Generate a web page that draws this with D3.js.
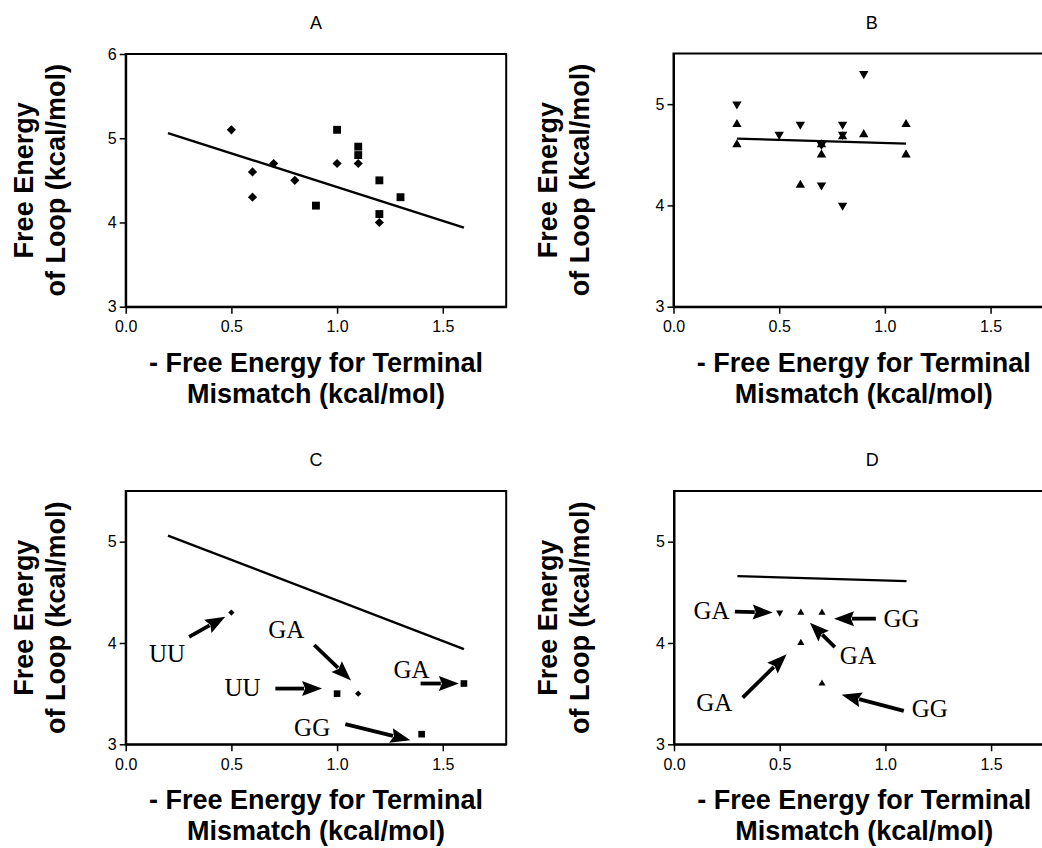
<!DOCTYPE html>
<html>
<head>
<meta charset="utf-8">
<script src="https://cdn.jsdelivr.net/npm/d3@7"></script>
<style>
  body { margin: 0; background: #fff; }
  svg { display: block; font-family: "Liberation Sans", Arial, sans-serif; }
</style>
</head>
<body>
<script>
// ---- data ----
const xTicks = [0.0, 0.5, 1.0, 1.5];
const yTicksA = [3, 4, 5, 6];
const yTicksBCD = [3, 4, 5];

// panel A
const aDiamonds = [[0.5, 5.1], [0.6, 4.6], [0.6, 4.3], [0.7, 4.7], [0.8, 4.5], [1.0, 4.7], [1.1, 4.7], [1.2, 4.0]];
const aSquares = [[1.0, 5.1], [1.1, 4.9], [1.1, 4.8], [0.9, 4.2], [1.2, 4.5], [1.2, 4.1], [1.3, 4.3]];
const fitAC = [[0.2, 5.06], [1.6, 3.94]];

// panel B
const bDown = [[0.3, 5.0], [0.5, 4.7], [0.6, 4.8], [0.7, 4.6], [0.7, 4.2], [0.8, 4.8], [0.8, 4.7], [0.8, 4.0], [0.9, 5.3]];
const bUp = [[0.3, 4.8], [0.3, 4.6], [0.6, 4.2], [0.7, 4.6], [0.7, 4.5], [0.8, 4.68], [0.9, 4.7], [1.1, 4.8], [1.1, 4.5]];
const fitBD = [[0.3, 4.66], [1.1, 4.61]];

// panel C
const cDiamonds = [[0.5, 4.3], [1.1, 3.5]];
const cSquares = [[1.0, 3.5], [1.6, 3.6], [1.4, 3.1]];
const cLabels = ["UU", "GA", "UU", "GA", "GG"];
const cLabelAt = [[0.196, 3.90], [0.76, 4.13], [0.553, 3.56], [1.352, 3.74], [0.882, 3.17]];
const cArrowFrom = [[0.30, 4.06], [0.892, 3.98], [0.708, 3.55], [1.395, 3.60], [1.039, 3.20]];
const cArrowTo = [[0.471, 4.26], [1.066, 3.63], [0.929, 3.55], [1.576, 3.60], [1.347, 3.04]];

// panel D
const dDown = [[0.5, 4.3]];
const dUp = [[0.6, 4.3], [0.7, 4.3], [0.6, 4.0], [0.7, 3.6]];
const dLabels = ["GA", "GG", "GA", "GA", "GG"];
const dLabelAt = [[0.178, 4.32], [1.076, 4.24], [0.87, 3.88], [0.191, 3.41], [1.21, 3.35]];
const dArrowFrom = [[0.288, 4.31], [0.955, 4.24], [0.761, 3.96], [0.325, 3.46], [1.087, 3.33]];
const dArrowTo = [[0.467, 4.30], [0.757, 4.24], [0.643, 4.20], [0.533, 3.89], [0.793, 3.49]];

const width = 1042, height = 848;

const svg = d3.select("body").append("svg")
  .attr("width", width)
  .attr("height", height);

function drawPanel(opt) {
  const x = d3.scaleLinear().domain([0, 1.8]).range([opt.left, opt.left + 380.5]);
  const y = d3.scaleLinear().domain(opt.yDomain).range([opt.bottom, opt.top]);
  const g = svg.append("g");

  // frame (top and right edges)
  g.append("rect")
    .attr("x", x(0)).attr("y", y(opt.yDomain[1]))
    .attr("width", x(1.8) - x(0)).attr("height", y(opt.yDomain[0]) - y(opt.yDomain[1]))
    .attr("fill", "none").attr("stroke", "#000").attr("stroke-width", 2);

  const xAxis = g.append("g")
    .attr("transform", `translate(0,${opt.bottom})`)
    .call(d3.axisBottom(x).tickValues(xTicks).tickFormat(d3.format(".1f")).tickSize(7).tickPadding(7).tickSizeOuter(0));
  const yAxis = g.append("g")
    .attr("transform", `translate(${opt.left},0)`)
    .call(d3.axisLeft(y).tickValues(opt.yTicks).tickFormat(d3.format("d")).tickSize(6).tickPadding(3).tickSizeOuter(0));
  [xAxis, yAxis].forEach(a => {
    a.attr("font-size", 16).attr("font-family", null);
    a.select(".domain").attr("stroke-width", 2);
    a.selectAll(".tick line").attr("stroke-width", 1.5);
    a.selectAll("text").attr("font-size", 16).attr("fill", "#000");
  });

  // title
  g.append("text")
    .attr("x", (x(0) + x(1.8)) / 2 + opt.titleDx)
    .attr("y", opt.top - 25)
    .attr("text-anchor", "middle")
    .attr("font-size", 18)
    .text(opt.title);

  // x label
  const xl = g.append("text")
    .attr("text-anchor", "middle")
    .attr("font-size", 27)
    .attr("font-weight", "bold");
  xl.append("tspan").attr("x", (x(0) + x(1.8)) / 2).attr("y", opt.bottom + 65).text("- Free Energy for Terminal");
  xl.append("tspan").attr("x", (x(0) + x(1.8)) / 2).attr("y", opt.bottom + 96).text("Mismatch (kcal/mol)");

  // y label
  const cy = (opt.top + opt.bottom) / 2;
  const yl = g.append("text")
    .attr("transform", `translate(${opt.left + opt.ylabDx},${cy}) rotate(-90)`)
    .attr("text-anchor", "middle")
    .attr("font-size", 27)
    .attr("font-weight", "bold");
  yl.append("tspan").attr("x", 0).attr("y", 0).text("Free Energy");
  yl.append("tspan").attr("x", 0).attr("y", 32).text("of Loop (kcal/mol)");

  // fit line
  g.append("path")
    .datum(opt.fit)
    .attr("d", d3.line().x(d => x(d[0])).y(d => y(d[1])))
    .attr("fill", "none").attr("stroke", "#000").attr("stroke-width", 2.4);

  // markers
  opt.marks.forEach(m => {
    g.selectAll(null)
      .data(m.data)
      .join("path")
      .attr("transform", d => `translate(${x(d[0])},${y(d[1])}) rotate(${m.rotate || 0})`)
      .attr("d", d3.symbol().type(m.type).size(m.size))
      .attr("fill", "#000");
  });

  // annotations
  if (opt.labels) {
    opt.labels.forEach((lab, i) => {
      g.append("text")
        .attr("x", x(opt.labelAt[i][0]))
        .attr("y", y(opt.labelAt[i][1]))
        .attr("dy", "0.34em")
        .attr("text-anchor", "middle")
        .attr("font-family", "Liberation Serif, Times New Roman, serif")
        .attr("font-size", 25)
        .text(lab);
      drawArrow(g, x(opt.arrowFrom[i][0]), y(opt.arrowFrom[i][1]), x(opt.arrowTo[i][0]), y(opt.arrowTo[i][1]));
    });
  }
}

function drawArrow(g, x1, y1, x2, y2) {
  const dx = x2 - x1, dy = y2 - y1;
  const len = Math.hypot(dx, dy);
  const ux = dx / len, uy = dy / len;
  const h = Math.min(20, len * 0.55), w = 7.5;
  const bx = x2 - ux * h, by = y2 - uy * h;
  g.append("line")
    .attr("x1", x1).attr("y1", y1).attr("x2", bx + ux * 2).attr("y2", by + uy * 2)
    .attr("stroke", "#000").attr("stroke-width", 3.8);
  g.append("path")
    .attr("d", `M${x2},${y2}L${bx - uy * w},${by + ux * w}L${bx + ux * 3},${by + uy * 3}L${bx + uy * w},${by - ux * w}Z`)
    .attr("fill", "#000");
}

drawPanel({
  left: 125.7, top: 54, bottom: 306.7, yDomain: [3, 6], yTicks: yTicksA,
  title: "A", titleDx: 0, ylabDx: -93, fit: fitAC,
  marks: [
    { data: aDiamonds, type: d3.symbolSquare, size: 42, rotate: 45 },
    { data: aSquares, type: d3.symbolSquare, size: 62 }
  ]
});

drawPanel({
  left: 673.5, top: 53.5, bottom: 306.7, yDomain: [3, 5.5], yTicks: yTicksBCD,
  title: "B", titleDx: 8, ylabDx: -117, fit: fitBD,
  marks: [
    { data: bDown, type: d3.symbolTriangle, size: 38, rotate: 180 },
    { data: bUp, type: d3.symbolTriangle, size: 38 }
  ]
});

drawPanel({
  left: 125.7, top: 491, bottom: 744.3, yDomain: [3, 5.5], yTicks: yTicksBCD,
  title: "C", titleDx: 0, ylabDx: -93, fit: fitAC,
  marks: [
    { data: cDiamonds, type: d3.symbolSquare, size: 20, rotate: 45 },
    { data: cSquares, type: d3.symbolSquare, size: 44 }
  ],
  labels: cLabels, labelAt: cLabelAt, arrowFrom: cArrowFrom, arrowTo: cArrowTo
});

drawPanel({
  left: 674, top: 491, bottom: 744.3, yDomain: [3, 5.5], yTicks: yTicksBCD,
  title: "D", titleDx: 8, ylabDx: -117, fit: fitBD,
  marks: [
    { data: dDown, type: d3.symbolTriangle, size: 22, rotate: 180 },
    { data: dUp, type: d3.symbolTriangle, size: 22 }
  ],
  labels: dLabels, labelAt: dLabelAt, arrowFrom: dArrowFrom, arrowTo: dArrowTo
});
</script>
</body>
</html>
